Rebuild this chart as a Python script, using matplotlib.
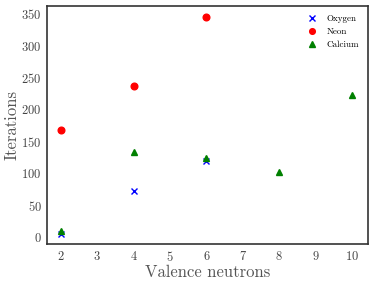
import numpy as np
import matplotlib.pyplot as plt

plt.rcParams['font.family'] = 'cmr10'
plt.rcParams['mathtext.fontset'] = 'cm'
plt.rcParams['axes.formatter.use_mathtext'] = True

# data
oxygen_x = [2, 4, 6]
oxygen_y = [5, 72, 120]
neon_x = [2, 4, 6]
neon_y = [168, 237, 345]
calcium_x = [2, 4, 6, 8, 10]
calcium_y = [10, 133, 124, 102, 222]

fig, ax = plt.subplots(figsize=(3.74, 2.84), dpi=100)
ax.plot(oxygen_x, oxygen_y, 'x', color='blue', ms=4.5, mew=1.0, label='Oxygen')
ax.plot(neon_x, neon_y, 'o', color='red', ms=4.8, label='Neon')
ax.plot(calcium_x, calcium_y, '^', color='green', ms=4.8, label='Calcium')

ax.set_xlim(1.62, 10.44)
ax.set_ylim(-11, 362)
ax.set_xticks(range(2, 11))
ax.set_yticks(range(0, 351, 50))
ax.tick_params(length=0, labelsize=9, colors='#444444', pad=4)
for s in ax.spines.values():
    s.set_linewidth(1.2)
    s.set_color('#333333')
ax.set_xlabel('Valence neutrons', fontsize=12, color='#555555', labelpad=1)
ax.set_ylabel('Iterations', fontsize=12, color='#555555', labelpad=1)
ax.legend(frameon=False, fontsize=6.5, loc='upper right', markerscale=0.85,
          handletextpad=0.6, borderaxespad=0.6)

plt.subplots_adjust(left=0.126, right=0.984, top=0.979, bottom=0.14)
plt.savefig('out.png', dpi=100)
